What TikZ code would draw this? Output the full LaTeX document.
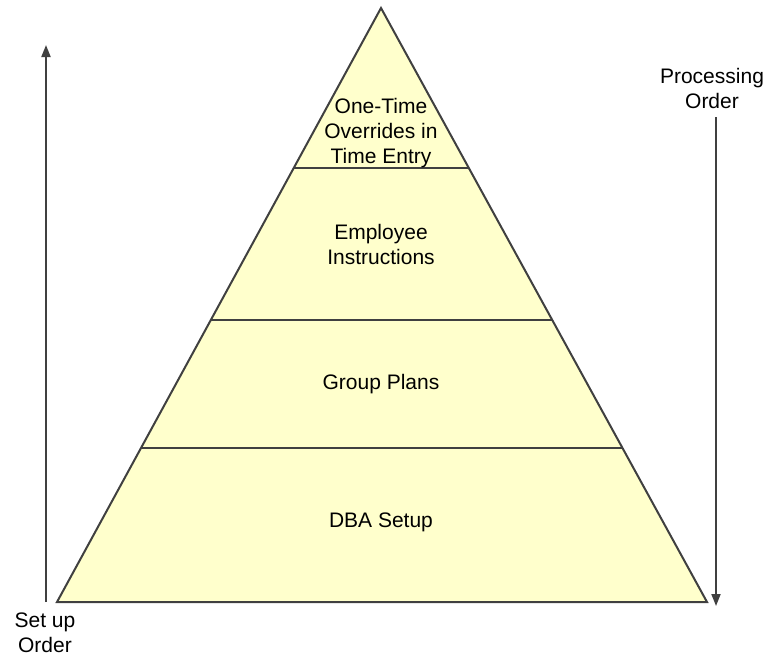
\documentclass[tikz,border=0pt]{standalone}
\usepackage{fontspec}
\setmainfont{Liberation Sans}
\usetikzlibrary{arrows.meta,calc}
\definecolor{pyrfill}{RGB}{255,255,204}
\definecolor{pyrline}{RGB}{64,64,64}
\tikzset{
  layer/.style={align=center,font=\fontsize{21}{25}\selectfont},
  order/.style={align=center,font=\fontsize{21}{25}\selectfont},
  orderarrow/.style={draw=pyrline,line width=1.8pt,-{Triangle[length=12pt,width=9pt]}}
}
\begin{document}
\begin{tikzpicture}[x=1pt,y=-1pt]
    \useasboundingbox (0,0) rectangle (771,656);

    % pyramid
    \coordinate (apex) at (381,8);
    \coordinate (bl) at (57,602);
    \coordinate (br) at (707,602);
    \draw[pyrline,line width=2pt,fill=pyrfill,line join=miter] (apex) -- (bl) -- (br) -- cycle;
    \draw[pyrline,line width=1.8pt] ($(apex)!0.2694!(bl)$) -- ($(apex)!0.2694!(br)$);
    \draw[pyrline,line width=1.8pt] ($(apex)!0.5253!(bl)$) -- ($(apex)!0.5253!(br)$);
    \draw[pyrline,line width=1.8pt] ($(apex)!0.7407!(bl)$) -- ($(apex)!0.7407!(br)$);

    \node[layer] (once) at (381,133) {One-Time\\Overrides in\\Time Entry};
    \node[layer] (empl) at (381,244) {Employee\\Instructions};
    \node[layer] (group) at (381,384) {Group Plans};
    \node[layer] (dba) at (381,522) {DBA Setup};

    % order arrows
    \node[order] (setup) at (45,633) {Set up\\Order};
    \coordinate (setuptop) at (46,45);
    \coordinate (setupbot) at (46,602);
    \draw[orderarrow] (setupbot) -- (setuptop);

    \node[order] (proc) at (712,88) {Processing\\Order};
    \coordinate (proctop) at (716,117);
    \coordinate (procbot) at (716,606);
    \draw[orderarrow] (proctop) -- (procbot);
\end{tikzpicture}
\end{document}
